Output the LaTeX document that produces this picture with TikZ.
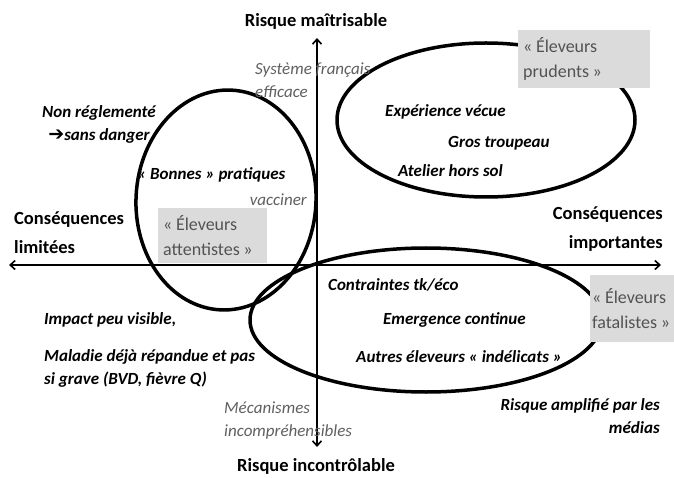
\documentclass[tikz,border=0pt]{standalone}
\usepackage{fontspec}
\setmainfont{Carlito}
\newfontfamily\arrowfont{DejaVu Sans}
\usetikzlibrary{arrows.meta,positioning}

\begin{document}
\begin{tikzpicture}[x=1pt,y=-1pt,
  axis/.style={{Straight Barb[length=5pt,width=9pt]}-{Straight Barb[length=5pt,width=9pt]}, line width=1.6pt},
  loop/.style={line width=3.5pt},
  pole/.style={font=\fontsize{18.5}{29}\selectfont\bfseries, inner sep=0pt},
  fact/.style={font=\fontsize{17}{23}\selectfont\bfseries\itshape, inner sep=0pt},
  note/.style={font=\fontsize{17}{23}\selectfont\itshape, text=gray!75!black, inner sep=0pt},
  group/.style={fill=gray!28, text=gray!65!black, font=\fontsize{18}{25}\selectfont,
    align=left, anchor=north west, inner xsep=5pt, inner ysep=0pt}
]
\useasboundingbox[fill=white] (0,0) rectangle (674,478);

% the three ellipses
\draw[loop] (226,200) ellipse [x radius=90pt, y radius=110pt, rotate=-3];
\draw[loop] (486,120) ellipse [x radius=149pt, y radius=77pt];
\draw[loop] (426,320) ellipse [x radius=176pt, y radius=72pt];

% axes
\coordinate (west) at (9,265);
\coordinate (east) at (661,265);
\coordinate (north) at (317,38);
\coordinate (south) at (317,447);
\draw[axis] (west) -- (east);
\draw[axis] (south) -- (north);

% axis labels
\node[pole] (top) at (316,21) {Risque maîtrisable};
\node[pole] (bottom) at (316,466) {Risque incontrôlable};
\node[pole, anchor=west, align=left] (left) at (14,233) {Conséquences\\limitées};
\node[pole, anchor=east, align=right] (right) at (663,229) {Conséquences\\importantes};

% groups of breeders
\node[group, text width=122pt, minimum height=58pt] (prudent) at (518,30) {«\hspace{0.2em}Éleveurs\\prudents\hspace{0.2em}»};
\node[group, text width=99pt, minimum height=55pt] (waiting) at (158,208) {«\hspace{0.2em}Éleveurs\\attentistes\hspace{0.2em}»};
\node[group, text width=80pt, minimum height=67pt, inner xsep=2pt] (fatal) at (590,275) {«\hspace{0.2em}Éleveurs\\fatalistes\hspace{0.2em}»};

% upper left
\node[note, anchor=west, align=left] (system) at (255,80) {Système français\\efficace};
\node[fact, align=center] (rules) at (99,124) {Non réglementé\\\resizebox{16pt}{!}{\arrowfont\bfseries ➔}sans danger};
\node[fact, anchor=west] (good) at (137,175) {« Bonnes » pratiques};
\node[note, anchor=east] (vacc) at (307,200) {vacciner};

% upper right
\node[fact, anchor=west] (exp) at (385,112) {Expérience vécue};
\node[fact, anchor=west] (herd) at (448,143) {Gros troupeau};
\node[fact, anchor=west] (indoor) at (398,171) {Atelier hors sol};

% lower right
\node[fact, anchor=west] (cost) at (328,285) {Contraintes tk/éco};
\node[fact, anchor=west] (emerg) at (383,320) {Emergence continue};
\node[fact, anchor=west] (others) at (356,357) {Autres éleveurs « indélicats »};
\node[fact, anchor=east, align=right] (media) at (660,416) {Risque amplifié par les\\médias};

% lower left
\node[fact, anchor=west] (impact) at (44,320) {Impact peu visible,};
\node[fact, anchor=west, align=left] (spread) at (44,368) {Maladie déjà répandue et pas\\si grave (BVD, fièvre Q)};
\node[note, anchor=west, align=left] (mech) at (224,421) {Mécanismes\\incompréhensibles};
\end{tikzpicture}
\end{document}
